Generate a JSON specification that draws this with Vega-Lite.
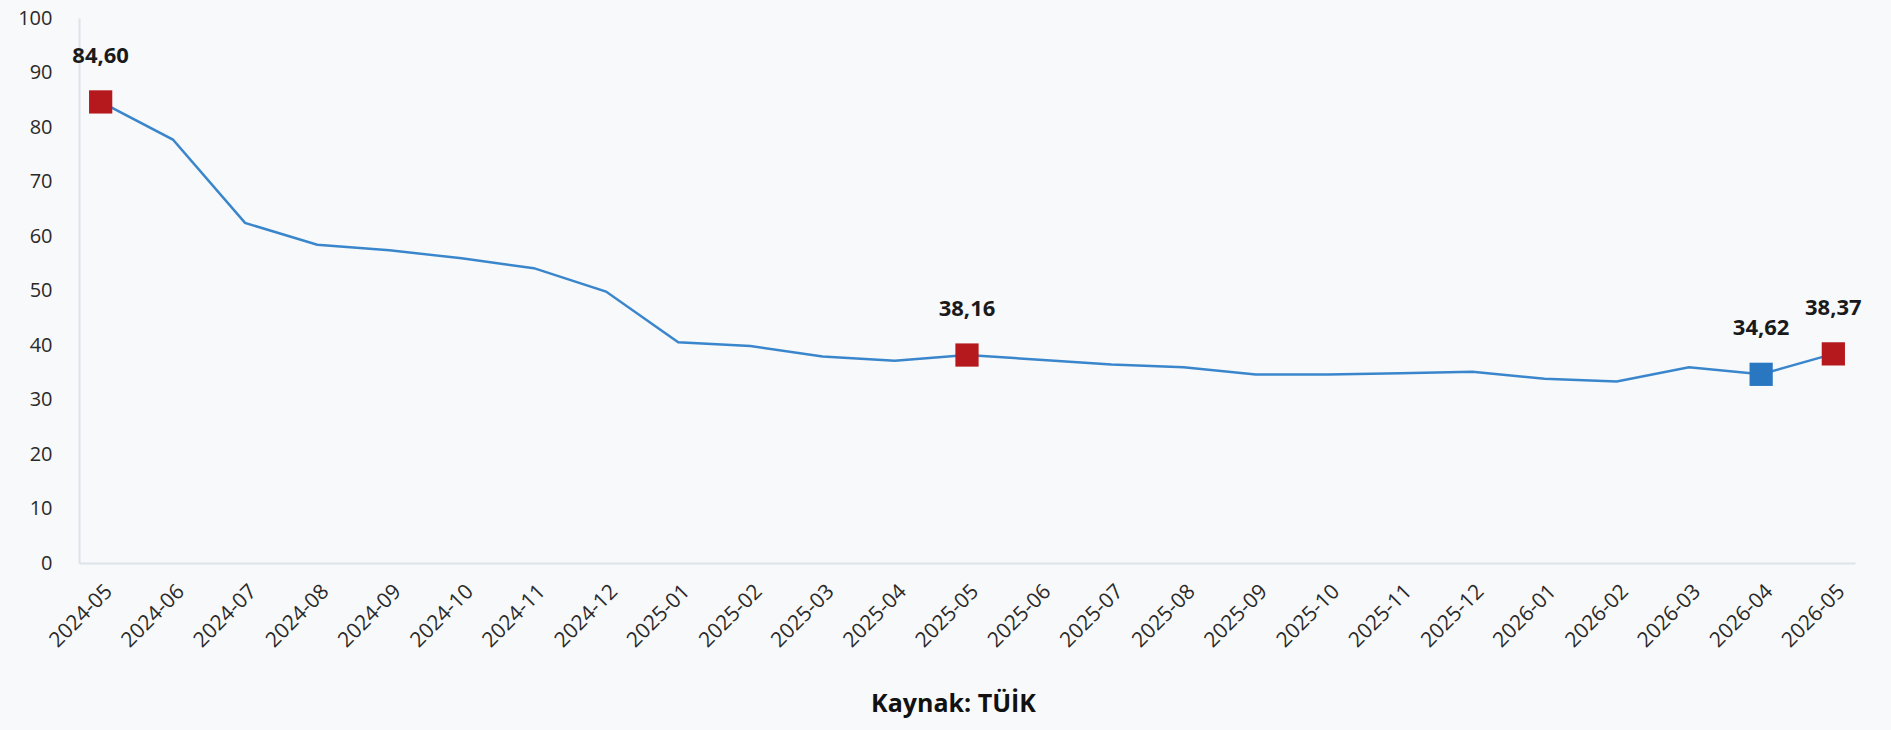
{
  "$schema": "https://vega.github.io/schema/vega-lite/v6.json",
  "width": 1776,
  "height": 545,
  "autosize": {"type": "none"},
  "padding": {"left": 79, "top": 18, "right": 36, "bottom": 167},
  "background": "#f8f9fa",
  "config": {
    "view": {"stroke": null},
    "font": "Open Sans",
    "locale": {
      "number": {"decimal": ",", "thousands": ".", "grouping": [3], "currency": ["", " ₺"]}
    }
  },
  "data": {
    "values": [
      {"ay": "2024-05", "deger": 84.60, "vurgu": "yillik"},
      {"ay": "2024-06", "deger": 77.7},
      {"ay": "2024-07", "deger": 62.4},
      {"ay": "2024-08", "deger": 58.4},
      {"ay": "2024-09", "deger": 57.4},
      {"ay": "2024-10", "deger": 55.9},
      {"ay": "2024-11", "deger": 54.1},
      {"ay": "2024-12", "deger": 49.8},
      {"ay": "2025-01", "deger": 40.5},
      {"ay": "2025-02", "deger": 39.8},
      {"ay": "2025-03", "deger": 37.9},
      {"ay": "2025-04", "deger": 37.1},
      {"ay": "2025-05", "deger": 38.16, "vurgu": "yillik"},
      {"ay": "2025-06", "deger": 37.3},
      {"ay": "2025-07", "deger": 36.4},
      {"ay": "2025-08", "deger": 35.9},
      {"ay": "2025-09", "deger": 34.6},
      {"ay": "2025-10", "deger": 34.6},
      {"ay": "2025-11", "deger": 34.8},
      {"ay": "2025-12", "deger": 35.1},
      {"ay": "2026-01", "deger": 33.8},
      {"ay": "2026-02", "deger": 33.3},
      {"ay": "2026-03", "deger": 35.9},
      {"ay": "2026-04", "deger": 34.62, "vurgu": "onceki_ay"},
      {"ay": "2026-05", "deger": 38.37, "vurgu": "yillik"}
    ]
  },
  "encoding": {
    "x": {
      "field": "ay",
      "type": "ordinal",
      "sort": null,
      "scale": {"type": "point", "padding": 0.3},
      "axis": {
        "title": "Kaynak: TÜİK",
        "titleFontSize": 25,
        "titleFontWeight": "bold",
        "titleColor": "#111111",
        "titleX": 874,
        "titleY": 148,
        "titleAlign": "center",
        "titleBaseline": "alphabetic",
        "labelAngle": -45,
        "labelAlign": "right",
        "labelBaseline": "middle",
        "labelFontSize": 21,
        "labelColor": "#2a2a2a",
        "labelPadding": 25,
        "labelOffset": 8,
        "ticks": false,
        "tickSize": 0,
        "domainColor": "#dce3ea",
        "domainWidth": 2,
        "grid": false
      }
    },
    "y": {
      "field": "deger",
      "type": "quantitative",
      "scale": {"domain": [0, 100], "nice": false, "zero": true},
      "axis": {
        "title": null,
        "values": [0, 10, 20, 30, 40, 50, 60, 70, 80, 90, 100],
        "labelFontSize": 20,
        "labelColor": "#2a2a2a",
        "labelPadding": 27,
        "ticks": false,
        "tickSize": 0,
        "domainColor": "#dce3ea",
        "domainWidth": 2,
        "grid": false
      }
    }
  },
  "layer": [
    {
      "mark": {"type": "line", "color": "#3a86cc", "strokeWidth": 2.5}
    },
    {
      "transform": [{"filter": "datum.vurgu != null"}],
      "mark": {"type": "point", "shape": "square", "filled": true, "size": 540, "opacity": 1},
      "encoding": {
        "color": {
          "field": "vurgu",
          "type": "nominal",
          "scale": {"domain": ["yillik", "onceki_ay"], "range": ["#b5191d", "#2a77c1"]},
          "legend": null
        }
      }
    },
    {
      "transform": [{"filter": "datum.vurgu != null"}],
      "mark": {"type": "text", "dy": -46, "fontSize": 22, "fontWeight": "bold", "color": "#1a1a1a"},
      "encoding": {
        "text": {"field": "deger", "type": "quantitative", "format": ".2f"}
      }
    }
  ]
}
